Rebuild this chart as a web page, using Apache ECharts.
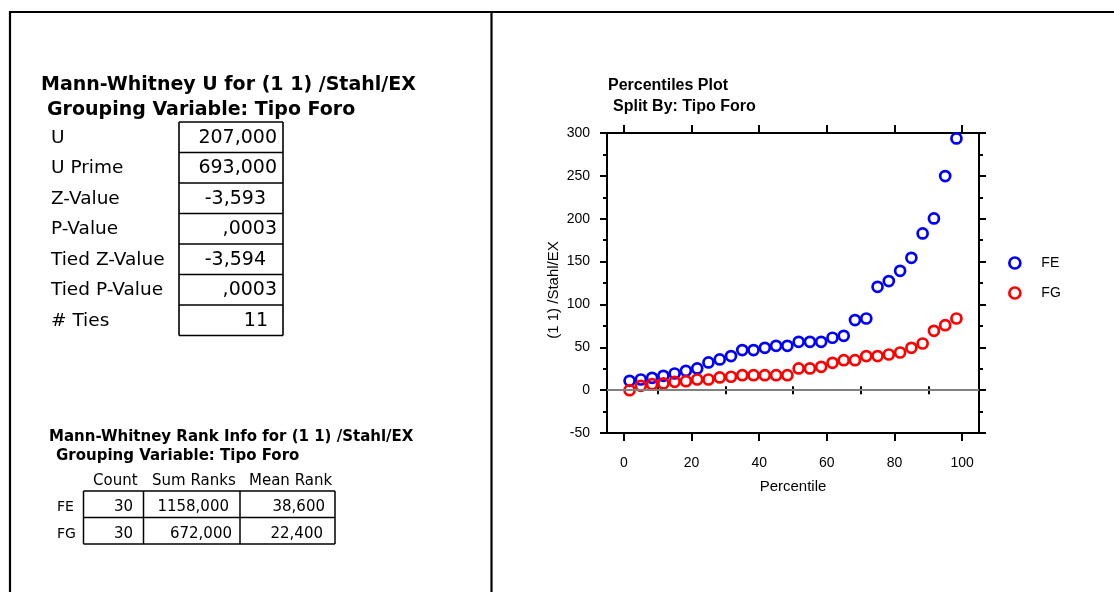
<!DOCTYPE html>
<html>
<head>
<meta charset="utf-8">
<script src="https://cdn.jsdelivr.net/npm/echarts@6/dist/echarts.min.js"></script>
<style>
html,body{margin:0;padding:0;background:#fff;}
#chart{width:1114px;height:592px;}
</style>
</head>
<body>
<div id="chart"></div>
<script>
// ---------- DATA ----------
const statLabels = ['U', 'U Prime', 'Z-Value', 'P-Value', 'Tied Z-Value', 'Tied P-Value', '# Ties'];
const statValues = ['207,000', '693,000', '-3,593', ',0003', '-3,594', ',0003', '11'];
const rankGroups = ['FE', 'FG'];
const rankHeaders = ['Count', 'Sum Ranks', 'Mean Rank'];
const rankCounts = ['30', '30'];
const rankSums = ['1158,000', '672,000'];
const rankMeans = ['38,600', '22,400'];
const seriesNames = ['FE', 'FG'];
const percentiles = [1.67, 5, 8.33, 11.67, 15, 18.33, 21.67, 25, 28.33, 31.67, 35, 38.33, 41.67, 45, 48.33,
  51.67, 55, 58.33, 61.67, 65, 68.33, 71.67, 75, 78.33, 81.67, 85, 88.33, 91.67, 95, 98.33];
const feValues = [10.9, 12.4, 14.4, 16.7, 19.4, 22.5, 25.3, 32.3, 35.8, 39.7, 46.7, 46.7, 49.4, 51.7, 51.7,
  56.4, 56.4, 56.4, 61.1, 63.4, 81.7, 83.6, 120.5, 127.2, 139.2, 154.4, 182.8, 200.3, 249.7, 293.7];
const fgValues = [0, 5, 7, 7.8, 9.7, 10.5, 12.4, 12.4, 14.8, 15.6, 17.5, 17.5, 17.5, 17.5, 17.5,
  25.3, 25.3, 27.2, 31.9, 35, 35, 39.7, 39.7, 41.6, 43.9, 49.4, 54.4, 69.2, 75.8, 83.6];
const xMajorTicks = [0, 20, 40, 60, 80, 100];
const xMinorTicks = [10, 30, 50, 70, 90];
const plotTitle = 'Percentiles Plot';
const plotSubtitle = 'Split By: Tipo Foro';
const xName = 'Percentile';
const yName = '(1 1) /Stahl/EX';
const title1 = 'Mann-Whitney U for (1 1) /Stahl/EX';
const title2 = 'Grouping Variable: Tipo Foro';
const title3 = 'Mann-Whitney Rank Info for (1 1) /Stahl/EX';

// ---------- LAYOUT ----------
const TF = 'DejaVu Sans';
const PF = 'Liberation Sans';
const statValueRight = [277, 277, 266, 277, 266, 277, 268];
const boxTop = 122, rowH = 30.5, boxL = 179, boxR = 283;

const g = [];
function txt(x, y, t, font, align) {
  g.push({type: 'text', x: x, y: y, silent: true,
    style: {text: t, font: font, fill: '#000', align: align || 'left', verticalAlign: 'middle'}});
}
function ln(x1, y1, x2, y2, w) {
  g.push({type: 'line', silent: true, shape: {x1: x1, y1: y1, x2: x2, y2: y2},
    style: {stroke: '#000', lineWidth: w || 1.5}});
}
// frame
ln(10, 12, 1114, 12, 2.2);
ln(10, 11, 10, 592, 2.2);
ln(491.5, 11, 491.5, 592, 2.2);

// top table
txt(41, 85, title1, 'bold 19px "' + TF + '"');
txt(47, 110, title2, 'bold 19px "' + TF + '"');
statLabels.forEach((s, i) => {
  const cy = boxTop + rowH * i + rowH / 2 + 0.5;
  txt(51, cy, s, '18.5px "' + TF + '"');
  txt(statValueRight[i], cy, statValues[i], '19px "' + TF + '"', 'right');
});
for (let i = 0; i <= statLabels.length; i++) {
  ln(boxL, boxTop + rowH * i, boxR, boxTop + rowH * i, 1.6);
}
ln(boxL, boxTop, boxL, boxTop + rowH * statLabels.length, 1.6);
ln(boxR, boxTop, boxR, boxTop + rowH * statLabels.length, 1.6);

// bottom table
txt(49, 437.5, title3, 'bold 15px "' + TF + '"');
txt(56, 456, title2, 'bold 15px "' + TF + '"');
const headerX = [93, 152, 249];
rankHeaders.forEach((h, i) => txt(headerX[i], 481.5, h, '15px "' + TF + '"'));
const rTop = 491, rMid = 517.5, rBot = 544, cL = 83.5, c1 = 143.5, c2 = 240, cR = 335;
ln(cL, rTop, cR, rTop, 1.5); ln(cL, rMid, cR, rMid, 1.5); ln(cL, rBot, cR, rBot, 1.5);
ln(cL, rTop, cL, rBot, 1.5); ln(c1, rTop, c1, rBot, 1.5); ln(c2, rTop, c2, rBot, 1.5); ln(cR, rTop, cR, rBot, 1.5);
const rowY = [507, 534.5];
const sumRight = [229, 232];
const meanRight = [325, 323];
rankGroups.forEach((grp, i) => {
  txt(57, rowY[i], grp, '14px "' + TF + '"');
  txt(133, rowY[i], rankCounts[i], '15px "' + TF + '"', 'right');
  txt(sumRight[i], rowY[i], rankSums[i], '15px "' + TF + '"', 'right');
  txt(meanRight[i], rowY[i], rankMeans[i], '15px "' + TF + '"', 'right');
});

// plot titles
txt(608, 86, plotTitle, 'bold 16px "' + PF + '"');
txt(613, 107, plotSubtitle, 'bold 16px "' + PF + '"');

const axisLineStyle = {color: '#000', width: 2};
const labelStyle = {color: '#000', fontFamily: PF, fontSize: 14};

const chart = echarts.init(document.getElementById('chart'), null, {renderer: 'canvas'});
chart.setOption({
  backgroundColor: '#fff',
  animation: false,
  graphic: g,
  grid: {left: 607, top: 133, right: 1114 - 979, bottom: 592 - 433, containLabel: false},
  legend: {
    orient: 'vertical', left: 1008, top: 256, itemWidth: 11, itemHeight: 11, itemGap: 16,
    padding: 0, data: seriesNames,
    itemStyle: {borderWidth: 2.7},
    textStyle: {color: '#000', fontFamily: PF, fontSize: 14, padding: [0, 0, 0, 16]}
  },
  xAxis: [
    {type: 'value', position: 'bottom', min: -5, max: 105,
      axisLine: {show: true, onZero: false, lineStyle: axisLineStyle},
      axisTick: {show: true, customValues: xMajorTicks, length: 8, lineStyle: {color: '#000', width: 2}},
      axisLabel: Object.assign({customValues: xMajorTicks, margin: 23}, labelStyle),
      splitLine: {show: false},
      name: xName, nameLocation: 'middle', nameGap: 46,
      nameTextStyle: {color: '#000', fontFamily: PF, fontSize: 15}},
    {type: 'value', position: 'bottom', min: -5, max: 105,
      axisLine: {show: false}, axisLabel: {show: false}, splitLine: {show: false},
      axisTick: {show: true, customValues: xMinorTicks, length: 4, lineStyle: {color: '#000', width: 2}}},
    {type: 'value', position: 'top', min: -5, max: 105,
      axisLine: {show: true, onZero: false, lineStyle: axisLineStyle},
      axisTick: {show: true, customValues: xMajorTicks, length: 8, lineStyle: {color: '#000', width: 2}},
      axisLabel: {show: false}, splitLine: {show: false}},
    {type: 'value', position: 'top', min: -5, max: 105,
      axisLine: {show: false}, axisLabel: {show: false}, splitLine: {show: false},
      axisTick: {show: true, customValues: xMinorTicks, length: 4, lineStyle: {color: '#000', width: 2}}}
  ],
  yAxis: [
    {type: 'value', position: 'left', min: -50, max: 300, interval: 50,
      axisLine: {show: true, onZero: false, lineStyle: axisLineStyle},
      axisTick: {show: true, length: 7, lineStyle: {color: '#000', width: 2}},
      minorTick: {show: true, splitNumber: 2, length: 4, lineStyle: {color: '#000', width: 2}},
      axisLabel: Object.assign({margin: 17}, labelStyle),
      splitLine: {show: false},
      name: yName, nameLocation: 'middle', nameGap: 46,
      nameTextStyle: {color: '#000', fontFamily: PF, fontSize: 15, padding: [0, 14, 0, 0]}},
    {type: 'value', position: 'right', min: -50, max: 300, interval: 50,
      axisLine: {show: true, onZero: false, lineStyle: axisLineStyle},
      axisTick: {show: true, length: 7, lineStyle: {color: '#000', width: 2}},
      minorTick: {show: true, splitNumber: 2, length: 4, lineStyle: {color: '#000', width: 2}},
      axisLabel: {show: false}, splitLine: {show: false}}
  ],
  series: [
    {name: seriesNames[0], type: 'scatter', xAxisIndex: 0, yAxisIndex: 0,
      symbol: 'circle', symbolSize: 10,
      itemStyle: {color: 'rgba(0,0,0,0)', borderColor: '#0000ff', borderWidth: 2.7, opacity: 1},
      data: percentiles.map((p, i) => [p, feValues[i]]),
      markLine: {silent: true, symbol: 'none', label: {show: false},
        lineStyle: {color: '#808080', width: 2, type: 'solid'}, data: [{yAxis: 0}]},
      z: 3},
    {name: seriesNames[1], type: 'scatter', xAxisIndex: 0, yAxisIndex: 0,
      symbol: 'circle', symbolSize: 10,
      itemStyle: {color: 'rgba(0,0,0,0)', borderColor: '#ff0000', borderWidth: 2.7, opacity: 1},
      data: percentiles.map((p, i) => [p, fgValues[i]]),
      z: 4}
  ]
});
</script>
</body>
</html>
